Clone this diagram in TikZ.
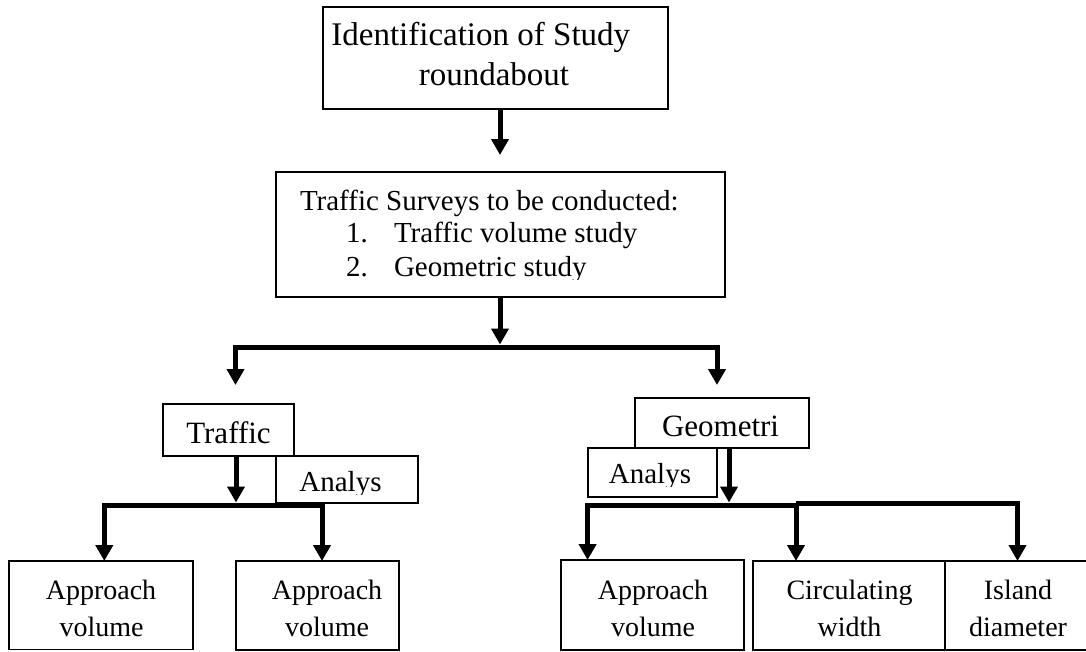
\documentclass[tikz,border=0pt]{standalone}
\usepackage{fontspec}
\setmainfont{Liberation Serif}
\usetikzlibrary{arrows.meta}
\newcommand\fsz[1]{\fontsize{#1}{#1}\selectfont}
\begin{document}
\begin{tikzpicture}[x=1pt,y=-1pt,
  boxwh/.style 2 args={draw=black, line width=1.3pt, inner sep=0pt, outer sep=0pt,
    minimum width=#1, minimum height=#2},
  txt/.style={inner sep=0pt, outer sep=0pt, anchor=base},
  txtl/.style={inner sep=0pt, outer sep=0pt, anchor=base west},
  arr/.style={line width=5pt, line join=miter, -{Triangle[width=17pt,length=16pt]}}]
\useasboundingbox (0,0) rectangle (1086,651);
\clip (0,0) rectangle (1086,651);
\fill[white] (0,0) rectangle (1086,651);

% ---- boxes ----
\node[boxwh={345pt}{102pt}] (top) at (495.5,58) {};
\node[boxwh={449pt}{125pt}] (survey) at (500.5,234.5) {};
\node[boxwh={131pt}{52pt}] (traffic) at (228.5,430) {};
\node[boxwh={142pt}{47pt}] (analysL) at (347,479.5) {};
\node[boxwh={174pt}{50pt}] (geo) at (722,423) {};
\node[boxwh={129pt}{49pt}] (analysR) at (652.5,472.5) {};
\node[boxwh={184pt}{88.5pt}] (b1) at (101,605.25) {};
\node[boxwh={163pt}{89pt}] (b2) at (317.5,605.5) {};
\node[boxwh={183pt}{90pt}] (ra) at (652.5,605) {};
\node[boxwh={192pt}{89pt}] (rc) at (849,605.5) {};
\node[boxwh={155pt}{89pt}] (ri) at (1022.5,605.5) {};

% ---- texts ----
\node[txt, font=\fsz{33}] (topA) at (489,45) {Identification of Study\hphantom{x}};
\node[txt, font=\fsz{33}] (topB) at (494,85) {roundabout};

\begin{scope}
  \clip (276,172) rectangle (725,279);
  \node[txtl, font=\fsz{29}] (survA) at (300,210) {Traffic Surveys to be conducted:};
  \node[txtl, font=\fsz{29}] (survB) at (346,242.3) {\makebox[48pt][l]{1.}Traffic volume study};
  \node[txtl, font=\fsz{29}] (survC) at (346,276.7) {\makebox[48pt][l]{2.}Geometric study};
\end{scope}

\node[txt, font=\fsz{31}] (trafficT) at (228.5,443.3) {Traffic};
\begin{scope}
  \clip (276,456) rectangle (418,494.5);
  \node[txt, font=\fsz{29}] (analysLT) at (340.5,491.5) {Analys};
\end{scope}

\node[txtl, font=\fsz{31}] (geoT) at (662,436.7) {Geometri};
\begin{scope}
  \clip (588,448) rectangle (717,486.5);
  \node[txt, font=\fsz{29}] (analysRT) at (650,483.5) {Analys};
\end{scope}

\node[txt, font=\fsz{28}] (b1a) at (101,599.3) {Approach};
\node[txt, font=\fsz{28}] (b1b) at (101.5,636.7) {volume};
\node[txt, font=\fsz{28}] (b2a) at (327,599.3) {Approach};
\node[txt, font=\fsz{28}] (b2b) at (327,636.7) {volume};
\node[txt, font=\fsz{28}] (raa) at (653,599) {Approach};
\node[txt, font=\fsz{28}] (rab) at (653,636.7) {volume};
\node[txt, font=\fsz{28}] (rca) at (849.5,599) {Circulating};
\node[txt, font=\fsz{28}] (rcb) at (849.5,636.7) {width};
\node[txt, font=\fsz{28}] (ria) at (1018,599) {Island};
\node[txt, font=\fsz{28}] (rib) at (1018,636.7) {diameter};

% ---- connectors ----
\coordinate (sTip) at (500,155);
\draw[arr] (top.south -| sTip) -- (sTip);

\coordinate (jm) at (500,347);
\coordinate (jmt) at (500,344.5);
\coordinate (tTip) at (235.5,385);
\coordinate (gTip) at (717,385);
\draw[arr] (survey.south -| jmt) -- (jmt);
\draw[arr] (jm) -| (tTip);
\draw[arr] (jm) -| (gTip);

\coordinate (jl) at (236,505);
\coordinate (jlt) at (236,502.5);
\coordinate (tL) at (104.3,505);
\coordinate (tR) at (322,505);
\draw[arr] (traffic.south -| jlt) -- (jlt);
\draw[arr] (jl) -| (b1.north -| tL);
\draw[arr] (jl) -| (b2.north -| tR);

\coordinate (jr) at (729,505);
\coordinate (jrt) at (729,502.5);
\coordinate (rL) at (587.6,505);
\coordinate (rM) at (796,505);
\coordinate (rS) at (796,503);
\coordinate (rR) at (1017.5,503);
\draw[arr] (geo.south -| jrt) -- (jrt);
\draw[arr] (jr) -| (ra.north -| rL);
\draw[arr] (jr) -| (rc.north -| rM);
\draw[arr] (rS) -| (ri.north -| rR);
\end{tikzpicture}
\end{document}
